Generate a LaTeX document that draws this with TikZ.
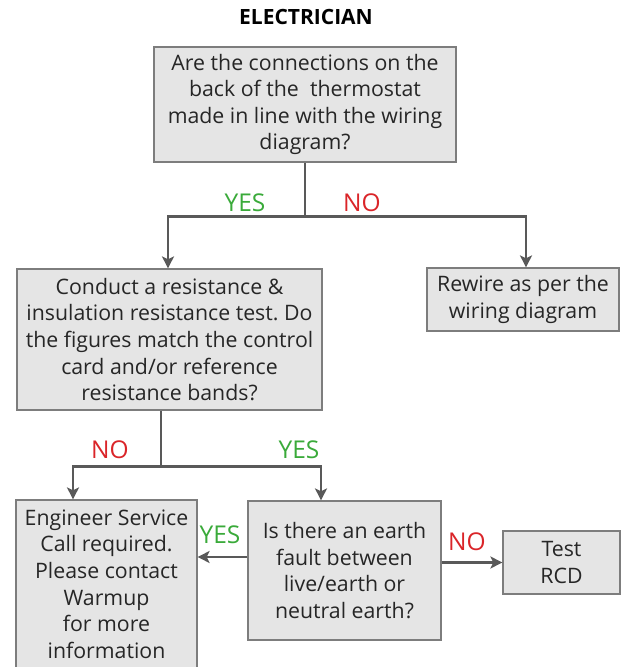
\documentclass[tikz,border=0pt]{standalone}
\usepackage{fontspec}
\setmainfont{Open Sans}
\frenchspacing
\usetikzlibrary{arrows.meta, positioning, calc}
\definecolor{boxgray}{RGB}{229,229,229}
\definecolor{edgegray}{RGB}{125,125,125}
\definecolor{linegray}{RGB}{89,89,89}
\definecolor{yesgreen}{RGB}{58,170,58}
\definecolor{nored}{RGB}{218,37,41}

\begin{document}
\begin{tikzpicture}[x=1pt, y=1pt,
    box/.style={draw=edgegray, line width=1.2pt, fill=boxgray, inner sep=0pt,
      align=center, text=black!85, font=\fontsize{21.3}{26.6}\selectfont},
    conn/.style={draw=linegray, line width=2.8pt},
    arr/.style={conn, -{Stealth[length=12pt, width=12pt, inset=3pt]}},
    yes/.style={text=yesgreen, font=\fontsize{24.5}{28}\selectfont},
    no/.style={text=nored, font=\fontsize{24.5}{28}\selectfont}]
  \useasboundingbox (0,0) rectangle (628,667);

  % Title
  \node[font=\fontsize{21}{25}\selectfont\bfseries] (title) at (306,650) {ELECTRICIAN};

  % Boxes
  \node[box, minimum width=302, minimum height=115] (wiring) at (305,562.5)
    {Are the connections on the\\back of the~ thermostat\\made in line with the wiring\\diagram?};
  \node[box, minimum width=305, minimum height=141] (resist) at (169.5,327.5)
    {Conduct a resistance \&\\insulation resistance test. Do\\the figures match the control\\card and/or reference\\resistance bands?};
  \node[box, minimum width=192, minimum height=63] (rewire) at (523,367.5)
    {Rewire as per the\\wiring diagram};
  \node[box, minimum width=181, minimum height=168] (engineer) at (106.5,83)
    {Engineer Service\\Call required.\\Please contact\\Warmup\\for more\\information};
  \node[box, minimum width=193, minimum height=139] (earth) at (344.5,96.5)
    {Is there an earth\\fault between\\live/earth or\\neutral earth?};
  \node[box, minimum width=117, minimum height=63] (rcd) at (561.5,104.5)
    {Test\\RCD};

  % First split
  \draw[conn] (wiring.south) -- ++(0,-54) coordinate (split1);
  \draw[arr] (split1) -| ([xshift=-1.5pt]resist.north);
  \draw[arr] (split1) -| ([xshift=3pt]rewire.north);
  \node[yes] (yes1) at (245,464) {YES};
  \node[no] (no1) at (362,464) {NO};

  % Second split
  \draw[conn] ([xshift=-8.5pt]resist.south) -- ++(0,-56) coordinate (split2);
  \draw[arr] (split2) -| ([xshift=-33.5pt]engineer.north);
  \draw[arr] (split2) -| ([xshift=-23.5pt]earth.north);
  \node[no] (no2) at (110,217) {NO};
  \node[yes] (yes2) at (299,217) {YES};

  % Earth fault
  \draw[arr] ([yshift=13.5pt]earth.west) -- ([yshift=13.5pt]earth.west -| engineer.east);
  \draw[arr] (earth.east |- rcd.west) -- (rcd.west);
  \node[yes] (yes3) at (220,132) {YES};
  \node[no] (no3) at (467,125) {NO};
\end{tikzpicture}
\end{document}
